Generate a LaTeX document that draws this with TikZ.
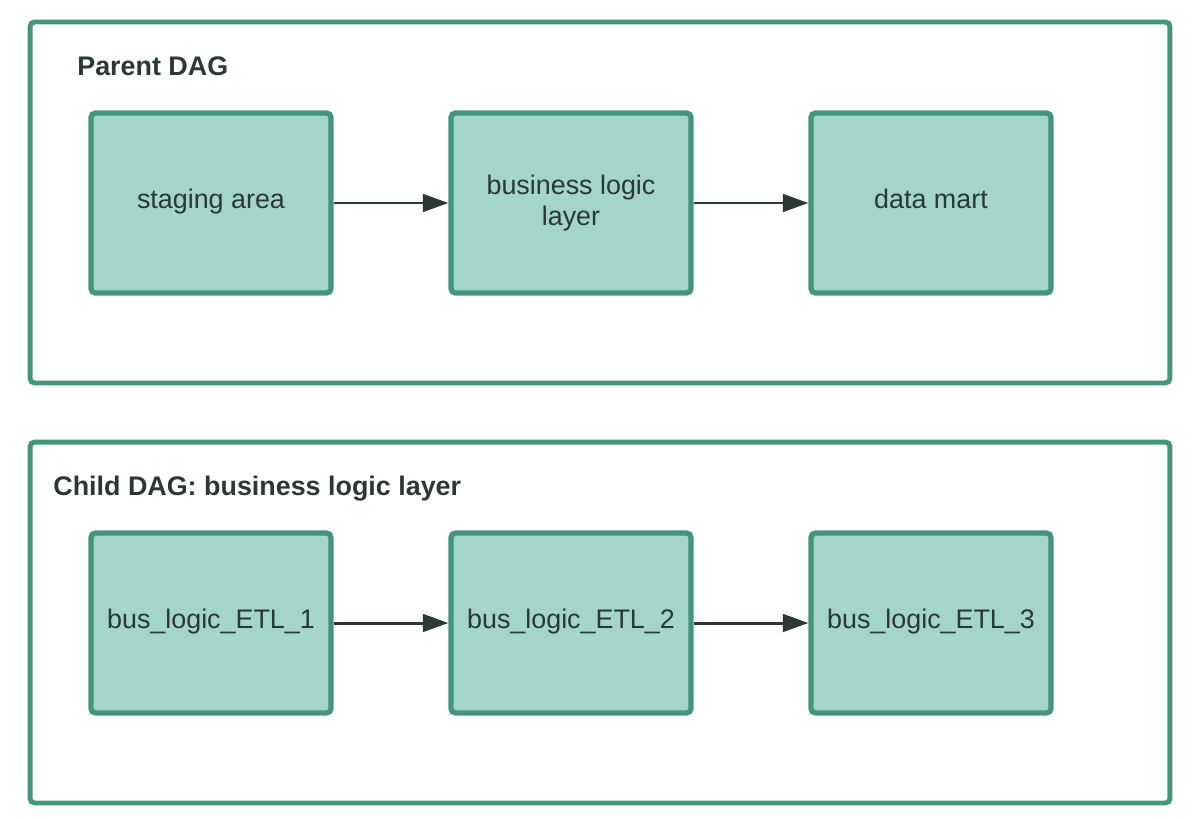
\documentclass[tikz,border=0pt]{standalone}
\usepackage{fontspec}
\setmainfont{Liberation Sans}
\usetikzlibrary{arrows.meta, positioning}
\definecolor{dagframe}{RGB}{67, 150, 124}
\definecolor{dagfill}{RGB}{163, 213, 201}
\definecolor{dagtext}{RGB}{44, 56, 53}

\tikzset{
    frame/.style={draw=dagframe, line width=2.8pt, rounded corners=2.5pt,
        minimum width=22.8cm, minimum height=7.22cm, inner sep=0pt},
    task/.style={draw=dagframe, fill=dagfill, line width=3pt, rounded corners=2.5pt,
        minimum width=4.8cm, minimum height=3.6cm, inner sep=0pt, align=center,
        text=dagtext, font=\fontsize{15.3}{17.6}\selectfont},
    oneline/.style={text height=9pt, text depth=3.3pt},
    title/.style={anchor=base west, inner sep=0pt, text=dagtext,
        font=\fontsize{15.3}{18}\selectfont\bfseries},
    flow/.style={draw=dagtext, line width=1.7pt, -{Triangle[length=14.5pt, width=10pt]}}
}

\begin{document}
\begin{tikzpicture}[x=0.02cm, y=-0.02cm]
    \useasboundingbox (0, 0) rectangle (1196, 818);

    % parent dag
    \node[frame] (Parent) at (600, 202.5) {};
    \node[title] (Ptitle) at (77, 75) {Parent DAG};
    \node[task, oneline] (Pstage) at (211, 203) {staging area};
    \node[task] (Pbus) at (571, 203) {business logic\\layer};
    \node[task, oneline] (Pmart) at (931, 203) {data mart};

    \draw[flow] (Pstage) -- (Pbus);
    \draw[flow] (Pbus) -- (Pmart);

    % child dag
    \node[frame] (Child) at (600, 622.5) {};
    \node[title] (Ctitle) at (53, 495) {Child DAG: business logic layer};
    \node[task, oneline] (Cetl1) at (211, 623) {bus\_logic\_ETL\_1};
    \node[task, oneline] (Cetl2) at (571, 623) {bus\_logic\_ETL\_2};
    \node[task, oneline] (Cetl3) at (931, 623) {bus\_logic\_ETL\_3};

    \draw[flow] (Cetl1) -- (Cetl2);
    \draw[flow] (Cetl2) -- (Cetl3);
\end{tikzpicture}
\end{document}
